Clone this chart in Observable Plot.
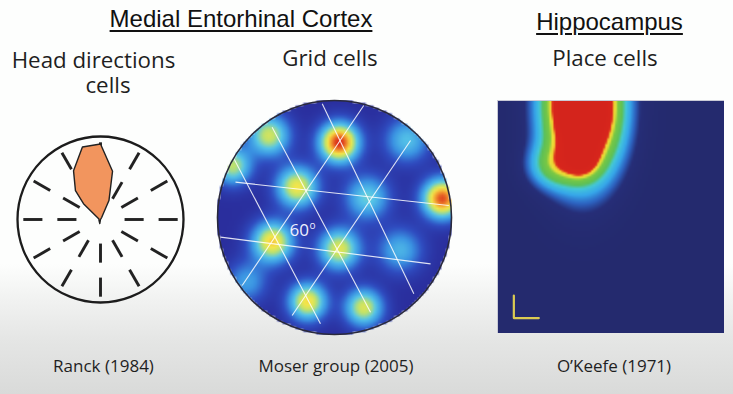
<!DOCTYPE html>
<html>
<head>
<meta charset="utf-8">
<script src="https://cdn.jsdelivr.net/npm/d3@7"></script>
<script src="https://cdn.jsdelivr.net/npm/@observablehq/plot@0.6"></script>
<style>
  html, body { margin: 0; padding: 0; }
  body {
    width: 733px; height: 394px; position: relative; overflow: hidden;
    background: linear-gradient(to bottom, #fdfefd 0%, #fdfefd 67%, #f1f2f1 76%, #e5e6e5 86%, #d9dad9 100%);
  }
  .lbl { position: absolute; white-space: pre; line-height: 1; transform: translateX(-50%); text-align: center; }
  .sans { font-family: "Open Sans", sans-serif; color: #1f1f1f; }
  .head { font-family: "Liberation Sans", Arial, sans-serif; color: #111;
          text-decoration: underline; text-decoration-thickness: 1.6px; text-underline-offset: 3px; }
  .panel { position: absolute; }
  .panel svg { display: block; background: transparent; }
</style>
</head>
<body>
<script>
// ---- text ----
const sectionHeadings = ["Medial Entorhinal Cortex", "Hippocampus"];
const panelTitles = ["Head directions\n\u00a0\u00a0\u00a0\u00a0\u00a0cells", "Grid cells", "Place cells"];
const citations = ["Ranck (1984)", "Moser group (2005)", "O’Keefe (1971)"];
const angleLabel = ["60", "o"];

// ---- head-direction cell: polar tuning (heading in degrees CCW from east, rate as fraction of dial radius) ----
const hdHeading = [0, 45, 60, 66, 76, 90, 104, 119, 131, 137, 160, 200, 260, 315];
const hdRate    = [0, 0, 0.03, 0.25, 0.60, 0.91, 0.90, 0.67, 0.46, 0.28, 0.02, 0.02, 0.05, 0];
// dial markings: one inner and one outer dash every 30 degrees
const dialHeadings = [0, 30, 60, 90, 120, 150, 180, 210, 240, 270, 300, 330];
const dialInner = [0.29, 0.52];
const dialOuter = [0.70, 0.93];

// ---- grid cell: firing fields in a circular arena of radius 1 ----
const gridFieldX      = [0.04, -0.56, 0.62, -0.87, -0.32, 0.28, 0.92, -0.53, 0.04, 0.56, -0.23, 0.25, -0.75];
const gridFieldY      = [0.64, 0.70, 0.66, 0.44, 0.26, 0.17, 0.16, -0.21, -0.27, -0.28, -0.72, -0.77, -0.55];
const gridFieldRate   = [1.00, 0.62, 0.40, 0.58, 0.70, 0.45, 0.95, 0.75, 0.66, 0.36, 0.72, 0.64, 0.30];
const gridFieldSpread = [0.115, 0.12, 0.13, 0.11, 0.12, 0.13, 0.115, 0.12, 0.12, 0.13, 0.11, 0.11, 0.12];
// grid axes drawn through the field centres
const gridAxisX1 = [-0.846, -0.974, -0.105, -0.533, -0.874, -0.789, -0.362];
const gridAxisY1 = [0.302, -0.168, 0.972, 0.772, 0.530, -0.581, -0.838];
const gridAxisX2 = [0.977, 0.821, 0.678, 0.308, -0.120, 0.250, 0.650];
const gridAxisY2 = [0.103, -0.396, -0.652, -0.809, -0.909, 0.957, 0.658];
const angleLabelX = [-0.385, -0.214];
const angleLabelY = [-0.154, -0.100];

// ---- place cell: firing field in a unit square arena ----
const placeX       = [0.375, 0.37, 0.24];
const placeY       = [0.98, 0.74, 0.72];
const placeSpreadX = [0.11, 0.05, 0.075];
const placeSpreadY = [0.20, 0.05, 0.065];
const placeRate    = [1.50, 0.33, 0.32];
// scale bar (arena units)
const scaleBarX = [0.072, 0.072, 0.182];
const scaleBarY = [0.163, 0.066, 0.066];

// ---- colour maps ----
const gridStops  = [0, 0.12, 0.26, 0.42, 0.58, 0.70, 0.84, 1];
const gridColors = ["#2a2e9d", "#2f4cc0", "#3a92e2", "#56c6e8", "#bfe26c", "#f4e64a", "#f39a30", "#d8261a"];
const placeStops  = [0, 0.10, 0.16, 0.24, 0.34, 0.42, 0.56, 0.62, 0.68, 0.71, 0.74, 1];
const placeColors = ["#242a6e", "#262e78", "#2d62c0", "#36a6ea", "#44c8d8", "#5cc058", "#7cc842", "#e8e03a", "#f0d030", "#e04020", "#d8261c", "#d4241c"];

// ---------------------------------------------------------------
const body = document.body;

function label(text, cx, baseline, size, cls, lineHeight = size) {
  const el = document.createElement("div");
  el.className = "lbl " + cls;
  el.textContent = text;
  el.style.fontSize = size + "px";
  el.style.lineHeight = lineHeight + "px";
  // place the first baseline at `baseline`
  const ascent = cls === "head" ? 0.905 : 1.069, content = cls === "head" ? 1.117 : 1.362;
  el.style.left = cx + "px";
  el.style.top = (baseline - (lineHeight - size * content) / 2 - size * ascent) + "px";
  body.appendChild(el);
}

function mount(svg, left, top) {
  const div = document.createElement("div");
  div.className = "panel";
  div.style.left = left + "px";
  div.style.top = top + "px";
  div.appendChild(svg);
  body.appendChild(div);
}

// headings and titles
label(sectionHeadings[0], 241, 27, 24, "head");
label(sectionHeadings[1], 609.5, 30, 24, "head");
label(panelTitles[0], 93.5, 68, 22.3, "sans", 25);
label(panelTitles[1], 330, 67, 22.3, "sans");
label(panelTitles[2], 605, 67, 22.3, "sans");
label(citations[0], 103.5, 372, 17, "sans");
label(citations[1], 336, 372, 17, "sans");
label(citations[2], 614, 372, 17, "sans");

// ---- head-direction panel ----
const rad = d => d * Math.PI / 180;
const hdPoints = hdHeading.map((h, i) => ({x: hdRate[i] * Math.cos(rad(h)), y: hdRate[i] * Math.sin(rad(h))}));
const dialTicks = dialHeadings.flatMap(h => [dialInner, dialOuter].map(([r0, r1]) => ({h, r0, r1})));
const hdSpan = 90 / 83;
const hdPlot = Plot.plot({
  width: 180, height: 180, margin: 0,
  x: {domain: [-hdSpan, hdSpan], axis: null},
  y: {domain: [-hdSpan, hdSpan], axis: null},
  marks: [
    Plot.dot([{x: 0, y: 0}], {x: "x", y: "y", r: 83, fill: "none", stroke: "#1c1c1c", strokeWidth: 2.3}),
    Plot.link(dialTicks, {
      x1: d => d.r0 * Math.cos(rad(d.h)), y1: d => d.r0 * Math.sin(rad(d.h)),
      x2: d => d.r1 * Math.cos(rad(d.h)), y2: d => d.r1 * Math.sin(rad(d.h)),
      stroke: "#222", strokeWidth: 2.9
    }),
    Plot.line(hdPoints, {x: "x", y: "y", curve: "linear-closed", fill: "#f2955e", stroke: "#222", strokeWidth: 1.4, strokeLinejoin: "round"})
  ]
});
mount(hdPlot, 10, 129);

// ---- grid cell panel ----
function gridRate(x, y) {
  if (x * x + y * y > 1) return NaN;
  let v = 0;
  for (let i = 0; i < gridFieldX.length; ++i) {
    const dx = x - gridFieldX[i], dy = y - gridFieldY[i], s = gridFieldSpread[i];
    v += gridFieldRate[i] * Math.exp(-(dx * dx + dy * dy) / (2 * s * s));
  }
  return v;
}
const gridAxes = gridAxisX1.map((x1, i) => ({x1, y1: gridAxisY1[i], x2: gridAxisX2[i], y2: gridAxisY2[i]}));
const gridSpan = 120 / 117;
const gridPlot = Plot.plot({
  width: 240, height: 240, margin: 0,
  x: {domain: [-gridSpan, gridSpan], axis: null},
  y: {domain: [-gridSpan, gridSpan], axis: null},
  color: {type: "linear", domain: gridStops, range: gridColors, interpolate: "rgb", clamp: true},
  marks: [
    Plot.raster({fill: gridRate, x1: -1, x2: 1, y1: -1, y2: 1, width: 90, height: 90}),
    Plot.link(gridAxes, {x1: "x1", y1: "y1", x2: "x2", y2: "y2", stroke: "#ffffff", strokeOpacity: 0.85, strokeWidth: 1.1}),
    Plot.text([angleLabel[0]], {x: angleLabelX[0], y: angleLabelY[0], text: d => d, textAnchor: "start", lineAnchor: "bottom",
      fill: "#eef0ff", fontSize: 17, fontFamily: "Open Sans"}),
    Plot.text([angleLabel[1]], {x: angleLabelX[1], y: angleLabelY[1], text: d => d, textAnchor: "start", lineAnchor: "bottom",
      fill: "#eef0ff", fontSize: 10, fontFamily: "Open Sans"}),
    Plot.dot([{x: 0, y: 0}], {x: "x", y: "y", r: 117, fill: "none", stroke: "#2a2a3c", strokeWidth: 1.6})
  ]
});
mount(gridPlot, 214, 97);

// ---- place cell panel ----
function placeRateAt(x, y) {
  let v = 0;
  for (let i = 0; i < placeX.length; ++i) {
    const dx = (x - placeX[i]) / placeSpreadX[i], dy = (y - placeY[i]) / placeSpreadY[i];
    v += placeRate[i] * Math.exp(-(dx * dx + dy * dy) / 2);
  }
  return v;
}
const scaleBar = scaleBarX.map((x, i) => ({x, y: scaleBarY[i]}));
const placePlot = Plot.plot({
  width: 227, height: 233, margin: 0,
  x: {domain: [0, 1], axis: null},
  y: {domain: [0, 1], axis: null},
  color: {type: "linear", domain: placeStops, range: placeColors, interpolate: "rgb", clamp: true},
  marks: [
    Plot.raster({fill: placeRateAt, x1: 0, x2: 1, y1: 0, y2: 1, width: 114, height: 117}),
    Plot.line(scaleBar, {x: "x", y: "y", stroke: "#dccb52", strokeWidth: 2.2}),
    Plot.frame({stroke: "#c9cad6", strokeWidth: 1})
  ]
});
mount(placePlot, 497, 100);
</script>
</body>
</html>
